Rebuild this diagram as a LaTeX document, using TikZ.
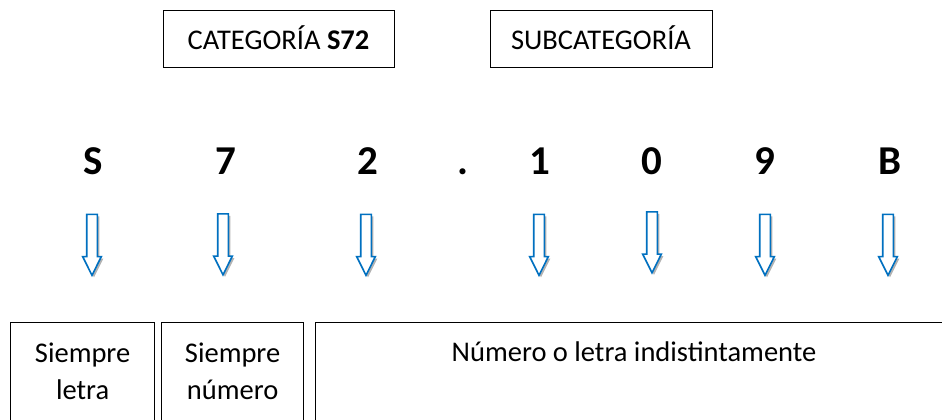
\documentclass[tikz,border=0pt]{standalone}
\usepackage{fontspec}
\setmainfont{Carlito}
\usetikzlibrary{positioning,shapes.arrows,shadows}
\definecolor{arrowblue}{RGB}{0,112,192}
\newcommand{\labelSize}[0]{\fontsize{28.5}{37}\selectfont}
\newcommand{\codeSize}[0]{\fontsize{41}{48}\selectfont\bfseries}

\begin{document}
\begin{tikzpicture}[x=1pt, y=1pt]
  \tikzset{
    headbox/.style={draw, line width=1pt, font=\labelSize, text height=21pt,
      text depth=0pt, minimum height=57pt, inner xsep=0pt},
    cellbox/.style={draw, line width=1.2pt, anchor=north west, minimum height=160pt},
    celltext/.style={font=\labelSize, align=center, inner sep=0pt},
    codechar/.style={font=\codeSize, anchor=base, inner sep=0pt},
    downarrow/.style={single arrow, shape border rotate=270, draw=arrowblue,
      line width=1.6pt, fill=white, inner sep=4.5pt, minimum width=17pt,
      minimum height=61pt, single arrow head extend=4pt, single arrow tip angle=53,
      drop shadow={shadow xshift=2pt, shadow yshift=-2pt, fill=gray, opacity=0.6}}
  }
  \useasboundingbox (0,0) rectangle (942,420);
  % header boxes
  \node[headbox, minimum width=231pt] (categoria) at (278.5,380.5) {CATEGORÍA \textbf{S72}};
  \node[headbox, minimum width=222pt] (subcategoria) at (601,380.5) {SUBCATEGORÍA};
  % the code
  \foreach \ch/\x [count=\i] in {S/93, 7/226, 2/368, ./463, 1/540, 0/652, 9/765, B/890}
    \node[codechar] (char\i) at (\x,245) {\ch};
  % arrows
  \foreach \x/\y [count=\i] in {92/180.5, 223/181, 366/180.5, 539/180.5, 652/183, 765/180.5, 888/180.5}
    \node[downarrow] (arrow\i) at (\x,\y) {};
  % bottom boxes
  \node[cellbox, minimum width=144pt] (letraBox) at (10,98) {};
  \node[cellbox, minimum width=142pt] (numeroBox) at (161,98) {};
  \node[cellbox, minimum width=645pt] (mixBox) at (315,98) {};
  \node[celltext, below=21pt of letraBox.north] (letraText) {Siempre\\letra};
  \node[celltext, below=21pt of numeroBox.north] (numeroText) {Siempre\\número};
  \node[celltext, anchor=base] (mixText) at (634,58) {Número o letra indistintamente};
\end{tikzpicture}
\end{document}
